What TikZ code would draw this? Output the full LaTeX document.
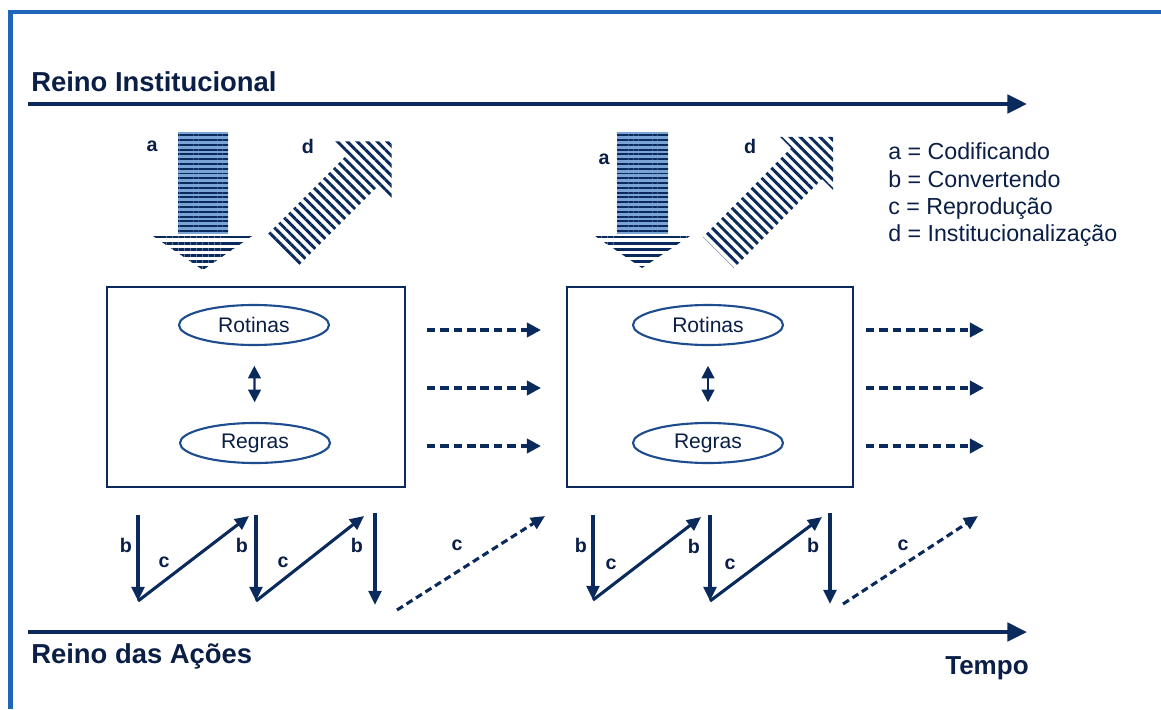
\documentclass[tikz,border=0pt]{standalone}
\usepackage{fontspec}
\setmainfont{Liberation Sans}
\usetikzlibrary{arrows.meta, patterns.meta, shapes.geometric}
\definecolor{inkNavy}{HTML}{0B2A5C}
\definecolor{textNavy}{HTML}{0A1E46}
\definecolor{lineBlue}{HTML}{1D4C8F}
\definecolor{frameBlue}{HTML}{1F66B8}
\definecolor{shaftBlue}{HTML}{7AA3D6}
\tikzset{
    realm_arrow/.style={
        -{Triangle[length=14pt,width=13pt]}, draw=inkNavy, line width=2.8pt
    },
    realm_lbl/.style={
        font=\fontsize{19.5}{23}\selectfont\bfseries, text=textNavy,
        inner sep=0pt, anchor=base west
    },
    state_box/.style={
        rectangle, draw=inkNavy, line width=2pt, minimum height=5cm, inner sep=0pt
    },
    memo_ellipse/.style={
        ellipse, draw=lineBlue, line width=1.5pt, minimum width=3.75cm,
        minimum height=1cm, inner sep=0pt,
        font=\fontsize{15}{18}\selectfont, text=textNavy
    },
    link_arrow/.style={
        {Triangle[length=9pt,width=9pt]}-{Triangle[length=9pt,width=9pt]},
        draw=inkNavy, line width=1.6pt, shorten <=14pt, shorten >=14pt
    },
    flow_dash/.style={
        -{Triangle[length=10pt,width=10pt]}, draw=inkNavy, line width=2.8pt,
        dash pattern=on 6pt off 3.5pt
    },
    step_arrow/.style={
        -{Triangle[length=10pt,width=9pt]}, draw=inkNavy, line width=2.2pt
    },
    step_dash/.style={
        step_arrow, dash pattern=on 5pt off 3pt
    },
    mode_lbl/.style={
        font=\fontsize{14}{16}\selectfont\bfseries, text=textNavy, inner sep=0pt
    },
    legend_lbl/.style={
        font=\fontsize{16.5}{19}\selectfont, text=textNavy,
        inner sep=0pt, anchor=base west
    },
    code_shaft/.style={
        fill=shaftBlue,
        postaction={pattern={Lines[angle=0,distance=3.4pt,line width=1.4pt]}, pattern color=inkNavy}
    },
    code_head/.style={
        pattern={Lines[angle=0,distance=4.3pt,line width=1.6pt]}, pattern color=inkNavy
    },
    inst_hatch/.style={
        pattern={Lines[angle=-45,distance=5pt,line width=2.1pt]}, pattern color=inkNavy
    }
}

\begin{document}
\begin{tikzpicture}[x=0.025cm, y=-0.025cm]
    \useasboundingbox (0,0) rectangle (1161,709);

    % frame
    \draw[frameBlue, line width=3.5pt] (10.5,709) -- (10.5,12) -- (1161,12);

    % the two realms along time
    \coordinate (inst_start) at (28,104);
    \coordinate (inst_end) at (1027,104);
    \coordinate (act_start) at (28,632);
    \coordinate (act_end) at (1027,632);
    \draw[realm_arrow] (inst_start) -- (inst_end);
    \draw[realm_arrow] (act_start) -- (act_end);
    \node[realm_lbl] (inst_lbl) at (31,92) {Reino Institucional};
    \node[realm_lbl] (act_lbl) at (31,663) {Reino das Ações};
    \node[realm_lbl, font=\fontsize{18.5}{22}\selectfont\bfseries] (time_lbl) at (945,674) {Tempo};

    % legend
    \node[legend_lbl] (leg_a) at (888,160) {a = Codificando};
    \node[legend_lbl] (leg_b) at (888,187) {b = Convertendo};
    \node[legend_lbl] (leg_c) at (888,214) {c = Reprodução};
    \node[legend_lbl] (leg_d) at (888,241) {d = Institucionalização};

    % encoding arrows (a)
    \fill[code_shaft] (178,132) rectangle (228,234);
    \fill[code_head] (150,234) -- (255,234) -- (203,270) -- cycle;
    \fill[code_shaft] (617,132) rectangle (668,234);
    \fill[code_head] (592,234) -- (693,234) -- (642,268) -- cycle;
    \node[mode_lbl] (a1) at (152,146) {a};
    \node[mode_lbl] (a2) at (604,159) {a};

    % institutionalization arrows (d)
    \fill[inst_hatch] (266.4,235.4) -- (346.4,155.4) -- (332.3,141.3) -- (391.7,141.3)
        -- (391.7,200.7) -- (377.6,186.6) -- (297.6,266.6) -- cycle;
    \fill[inst_hatch] (703,237) -- (791,148) -- (780,137) -- (833,137)
        -- (833,190) -- (822,179) -- (734,268) -- cycle;
    \node[mode_lbl] (d1) at (308,146) {d};
    \node[mode_lbl] (d2) at (750,146) {d};

    % institutions: routines and rules
    \node[state_box, minimum width=7.45cm] (box1) at (256,387) {};
    \node[state_box, minimum width=7.15cm] (box2) at (710,387) {};
    \node[memo_ellipse] (rot1) at (254,325) {Rotinas};
    \node[memo_ellipse] (reg1) at (255,443) {Regras};
    \node[memo_ellipse] (rot2) at (708,325) {Rotinas};
    \node[memo_ellipse] (reg2) at (708,443) {Regras};
    \draw[link_arrow] (rot1) -- (reg1);
    \draw[link_arrow] (rot2) -- (reg2);

    % carried forward in time
    \coordinate (f1a) at (427,330);  \coordinate (f1b) at (541,330);
    \coordinate (f2a) at (427,388);  \coordinate (f2b) at (541,388);
    \coordinate (f3a) at (427,446);  \coordinate (f3b) at (541,446);
    \coordinate (g1a) at (866,330);  \coordinate (g1b) at (984,330);
    \coordinate (g2a) at (866,388);  \coordinate (g2b) at (984,388);
    \coordinate (g3a) at (866,446);  \coordinate (g3b) at (984,446);
    \draw[flow_dash] (f1a) -- (f1b);
    \draw[flow_dash] (f2a) -- (f2b);
    \draw[flow_dash] (f3a) -- (f3b);
    \draw[flow_dash] (g1a) -- (g1b);
    \draw[flow_dash] (g2a) -- (g2b);
    \draw[flow_dash] (g3a) -- (g3b);

    % enacting and reproducing, first period
    \coordinate (p1t) at (138,515);  \coordinate (p1b) at (138,601);
    \coordinate (p2t) at (256,515);  \coordinate (p2b) at (256,601);
    \coordinate (p3t) at (375,513);  \coordinate (p3b) at (375,605);
    \coordinate (p1c) at (249,516);  \coordinate (p2c) at (364,516);
    \coordinate (p3s) at (397,610);  \coordinate (p3c) at (545,516);
    \draw[step_arrow] (p1t) -- (p1b);
    \draw[step_arrow] (p1b) -- (p1c);
    \draw[step_arrow] (p2t) -- (p2b);
    \draw[step_arrow] (p2b) -- (p2c);
    \draw[step_arrow] (p3t) -- (p3b);
    \draw[step_dash] (p3s) -- (p3c);
    \node[mode_lbl] (pb1) at (126,545) {b};
    \node[mode_lbl] (pc1) at (164,562) {c};
    \node[mode_lbl] (pb2) at (242,545) {b};
    \node[mode_lbl] (pc2) at (283,562) {c};
    \node[mode_lbl] (pb3) at (357,545) {b};
    \node[mode_lbl] (pc3) at (457,545) {c};

    % enacting and reproducing, second period
    \coordinate (q1t) at (593,515);  \coordinate (q1b) at (593,600);
    \coordinate (q2t) at (710,515);  \coordinate (q2b) at (710,601);
    \coordinate (q3t) at (830,513);  \coordinate (q3b) at (830,604);
    \coordinate (q1c) at (701,517);  \coordinate (q2c) at (822,517);
    \coordinate (q3s) at (843,604);  \coordinate (q3c) at (978,516);
    \draw[step_arrow] (q1t) -- (q1b);
    \draw[step_arrow] (q1b) -- (q1c);
    \draw[step_arrow] (q2t) -- (q2b);
    \draw[step_arrow] (q2b) -- (q2c);
    \draw[step_arrow] (q3t) -- (q3b);
    \draw[step_dash] (q3s) -- (q3c);
    \node[mode_lbl] (qb1) at (581,545) {b};
    \node[mode_lbl] (qc1) at (611,564) {c};
    \node[mode_lbl] (qb2) at (694,546) {b};
    \node[mode_lbl] (qc2) at (730,564) {c};
    \node[mode_lbl] (qb3) at (813,545) {b};
    \node[mode_lbl] (qc3) at (903,545) {c};
\end{tikzpicture}
\end{document}
